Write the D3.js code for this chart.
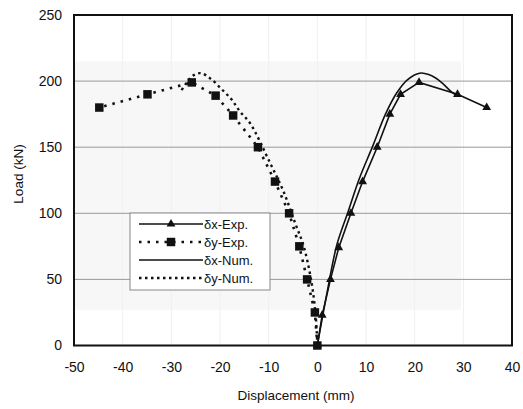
<!DOCTYPE html>
<html><head><meta charset="utf-8">
<script src="https://cdn.jsdelivr.net/npm/d3@7"></script>
<style>body{margin:0;background:#fff}svg{display:block}text{font-family:"Liberation Sans",Arial,sans-serif;fill:#111}</style>
</head><body><div id="c"></div>
<script>
const xTicks = [-50,-40,-30,-20,-10,0,10,20,30,40];
const yTicks = [0,50,100,150,200,250];
const gridY = [50,100,150,200];
const legendLabels = ["δx-Exp.","δy-Exp.","δx-Num.","δy-Num."];
const dxExpX = [0,1,2.7,4.4,6.9,9.3,12.3,14.9,17.1,20.9,28.8,34.8];
const dxExpY = [0,23,50,74,100,124,150,175,190,199,190,180];
const dyExpX = [0,-0.5,-2.1,-3.7,-5.8,-8.7,-12.2,-17.3,-20.9,-25.8,-34.9,-44.8];
const dyExpY = [0,25,50,75,100,124,150,174,189,199,190,180];
const dxNumX = [0,2,4,6.3,8.6,11.4,14,16.3,18.5,21,23.5,25.5,27.5,28.6];
const dxNumY = [0,40,76,101,126,151,175,191,201,206,204,199,192,189];
const dyNumX = [0,-0.4,-1.3,-2.8,-4.6,-7,-9.7,-13.8,-15.9,-17.6,-19.7,-22,-24,-25.6,-27,-28.3];
const dyNumY = [0,25,50,75,93,117,138,168,177,186,194,202,206,204,198,191];

const W=523,H=409;
const svg=d3.select("#c").append("svg").attr("width",W).attr("height",H);
const x=d3.scaleLinear().domain([-50,40]).range([74,512]);
const y=d3.scaleLinear().domain([0,250]).range([345.5,15]);
const fmt=d=>String(d);

// faint background panel
svg.append("rect").attr("x",x(-50)).attr("y",y(215)).attr("width",x(29.5)-x(-50)).attr("height",y(27)-y(215)).attr("fill","#f7f7f7");
// faint vertical grid
svg.append("g").selectAll("line").data(xTicks.filter(d=>d>-50&&d<40)).join("line")
 .attr("x1",d=>x(d)).attr("x2",d=>x(d)).attr("y1",y(250)).attr("y2",y(0)).attr("stroke","#f0f0f0").attr("stroke-width",1);
// horizontal grid
svg.append("g").selectAll("line").data(gridY).join("line")
 .attr("x1",x(-50)).attr("x2",x(40)).attr("y1",d=>y(d)).attr("y2",d=>y(d)).attr("stroke","#999").attr("stroke-width",1);

// frame
svg.append("rect").attr("x",x(-50)).attr("y",y(250)).attr("width",x(40)-x(-50)).attr("height",y(0)-y(250)).attr("fill","none").attr("stroke","#111").attr("stroke-width",2);

// axes
const xa=d3.axisBottom(x).tickValues(xTicks).tickFormat(fmt).tickSize(0).tickPadding(17);
const gx=svg.append("g").attr("transform",`translate(0,${y(0)})`).call(xa);
gx.select(".domain").remove();
gx.selectAll("text").style("font-size","14px").attr("fill","#111");
const ya=d3.axisLeft(y).tickValues(yTicks).tickFormat(fmt).tickSize(0).tickPadding(12);
const gy=svg.append("g").attr("transform",`translate(${x(-50)},0)`).call(ya);
gy.select(".domain").remove();
gy.selectAll("text").style("font-size","14px").attr("fill","#111");

svg.append("text").attr("x",296).attr("y",400).attr("text-anchor","middle").style("font-size","13.5px").text("Displacement (mm)");
svg.append("text").attr("transform","translate(23,174) rotate(-90)").attr("text-anchor","middle").style("font-size","13.5px").text("Load (kN)");

const lin=d3.line().x(d=>x(d[0])).y(d=>y(d[1]));
const smooth=d3.line().x(d=>x(d[0])).y(d=>y(d[1])).curve(d3.curveCatmullRom.alpha(0.5));
const zip=(a,b)=>a.map((v,i)=>[v,b[i]]);
const dxExp=zip(dxExpX,dxExpY), dyExp=zip(dyExpX,dyExpY), dxNum=zip(dxNumX,dxNumY), dyNum=zip(dyNumX,dyNumY);

const styles=[
 {dash:null,w:1.6,marker:"tri"},
 {dash:"2.5,6",w:2.6,marker:"sq"},
 {dash:null,w:1.6,marker:null},
 {dash:"2.5,3.5",w:2.4,marker:null}
];
function drawPath(data,gen,st){
 svg.append("path").attr("d",gen(data)).attr("fill","none").attr("stroke","#111")
  .attr("stroke-width",st.w).attr("stroke-dasharray",st.dash).attr("stroke-linecap","butt");
}
drawPath(dyNum,smooth,styles[3]);
drawPath(dxNum,smooth,styles[2]);
drawPath(dyExp,lin,styles[1]);
drawPath(dxExp,lin,styles[0]);
const tri=d3.symbol().type(d3.symbolTriangle).size(34);
const sq=d3.symbol().type(d3.symbolSquare).size(72);
svg.append("g").selectAll("path").data(dyExp).join("path").attr("d",sq).attr("transform",d=>`translate(${x(d[0])},${y(d[1])})`).attr("fill","#111");
svg.append("g").selectAll("path").data(dxExp).join("path").attr("d",tri).attr("transform",d=>`translate(${x(d[0])},${y(d[1])})`).attr("fill","#111");

// legend
const lg=svg.append("g");
lg.append("rect").attr("x",130).attr("y",213).attr("width",140).attr("height",77).attr("fill","#fff").attr("stroke","#888").attr("stroke-width",1);
legendLabels.forEach((t,i)=>{
 const yy=224+i*18, st=styles[i];
 lg.append("line").attr("x1",139).attr("x2",203).attr("y1",yy).attr("y2",yy).attr("stroke","#111").attr("stroke-width",st.w).attr("stroke-dasharray",st.dash);
 if(st.marker==="tri") lg.append("path").attr("d",tri).attr("transform",`translate(171,${yy})`).attr("fill","#111");
 if(st.marker==="sq") lg.append("path").attr("d",sq).attr("transform",`translate(171,${yy})`).attr("fill","#111");
 lg.append("text").attr("x",204).attr("y",yy+4.5).style("font-size","13px").text(t);
});
</script></body></html>
